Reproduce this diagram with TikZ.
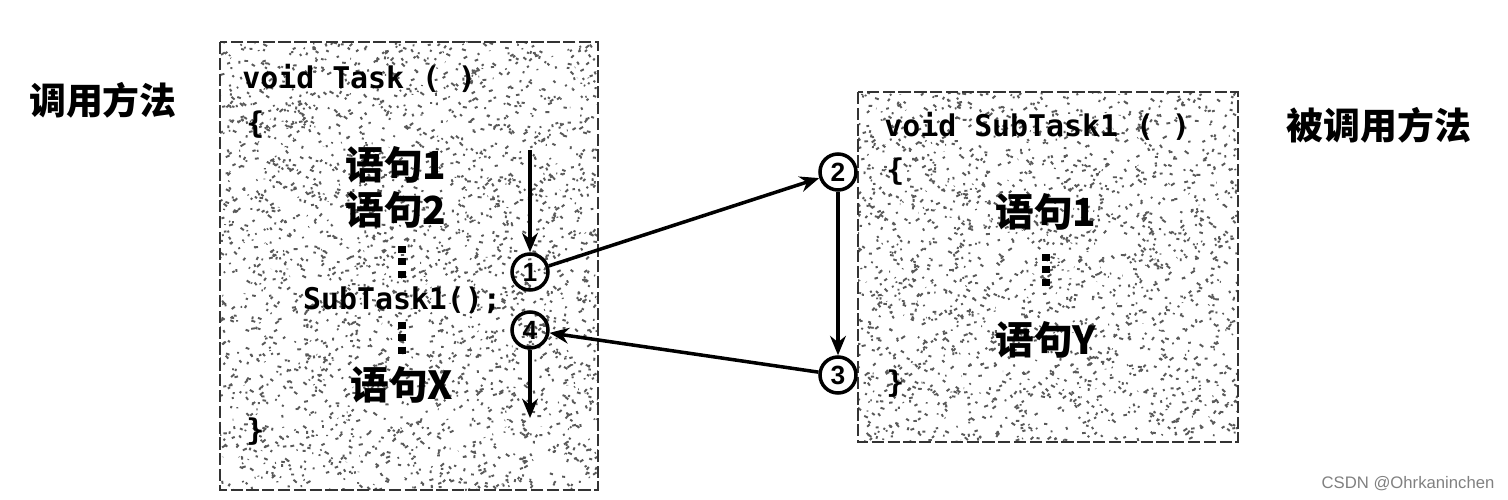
\documentclass[tikz,border=0pt]{standalone}
\usepackage{fontspec}
\setmainfont{Liberation Sans}
\setmonofont{DejaVu Sans Mono}
\newfontfamily\cjk{Noto Sans CJK SC}
\usetikzlibrary{positioning,arrows.meta,calc}

\begin{document}
\begin{tikzpicture}[
    x=0.02cm, y=-0.02cm,
    codebox/.style={draw=black!80, line width=1.3pt, dash pattern=on 7pt off 2pt},
    code/.style={font=\ttfamily\bfseries\fontsize{17}{17}\selectfont, inner sep=0pt},
    stmt/.style={font=\cjk\bfseries\fontsize{22}{22}\selectfont, inner sep=0pt},
    side/.style={font=\cjk\bfseries\fontsize{21}{21}\selectfont, inner sep=0pt},
    vdots/.style={line width=4pt, dash pattern=on 4pt off 3pt},
    num/.style={draw, circle, line width=2pt, minimum size=0.72cm, inner sep=0pt,
                font=\fontsize{15}{15}\selectfont\bfseries},
    arr/.style={-{Stealth[length=11pt, width=9pt]}, line width=2pt},
    speck/.style={black!65, line width=1.1pt}
  ]
  \useasboundingbox (0,0) rectangle (1508,500);
  \pgfmathsetseed{17}

  % Caller box
  \begin{scope}
    \clip (220,42) rectangle (598,490);
    \foreach \i in {1,...,2600}{
      \pgfmathsetmacro\px{220+378*rnd}
      \pgfmathsetmacro\py{42+448*rnd}
      \draw[speck] (\px,\py) -- ++(4*rand,3*rand);
    }
  \end{scope}
  \draw[codebox] (220,42) rectangle (598,490);

  % Callee box
  \begin{scope}
    \clip (858,92) rectangle (1238,442);
    \foreach \i in {1,...,2000}{
      \pgfmathsetmacro\px{858+380*rnd}
      \pgfmathsetmacro\py{92+350*rnd}
      \draw[speck] (\px,\py) -- ++(4*rand,3*rand);
    }
  \end{scope}
  \draw[codebox] (858,92) rectangle (1238,442);

  % Side labels
  \node[side] (caller) at (103,100) {调用方法};
  \node[side] (callee) at (1379,125) {被调用方法};

  % Caller code
  \node[code, anchor=west] (taskhead) at (242,78) {void Task ( )};
  \node[code, anchor=west] (lbrace) at (246,125) {\{};
  \node[stmt] (s1) at (396,165) {语句1};
  \node[stmt] (s2) at (396,210) {语句2};
  \draw[vdots] (402,246) -- (402,278);
  \node[code] (call) at (402,300) {SubTask1();};
  \draw[vdots] (402,322) -- (402,354);
  \node[stmt] (sx) at (402,385) {语句X};
  \node[code, anchor=west] (rbrace) at (246,432) {\}};

  % Callee code
  \node[code, anchor=west] (subhead) at (884,126) {void SubTask1 ( )};
  \node[code, anchor=west] (lbrace2) at (886,172) {\{};
  \node[stmt] (t1) at (1046,212) {语句1};
  \draw[vdots] (1046,254) -- (1046,286);
  \node[stmt] (ty) at (1046,340) {语句Y};
  \node[code, anchor=west] (rbrace2) at (886,384) {\}};

  % Step markers
  \node[num] (c1) at (530,272) {1};
  \node[num] (c4) at (530,330) {4};
  \node[num] (c2) at (838,172) {2};
  \node[num] (c3) at (838,375) {3};
  \coordinate (start) at (530,150);
  \coordinate (finish) at (530,418);

  % Flow
  \draw[arr] (start) -- (c1);
  \draw[arr] (c1) -- (c2);
  \draw[arr] (c2) -- (c3);
  \draw[arr] (c3) -- (c4);
  \draw[arr] (c4) -- (finish);

  \node[font=\fontsize{9.5}{9.5}\selectfont, text=black!50, inner sep=0pt]
    (mark) at (1408,484) {CSDN @Ohrkaninchen};
\end{tikzpicture}
\end{document}
